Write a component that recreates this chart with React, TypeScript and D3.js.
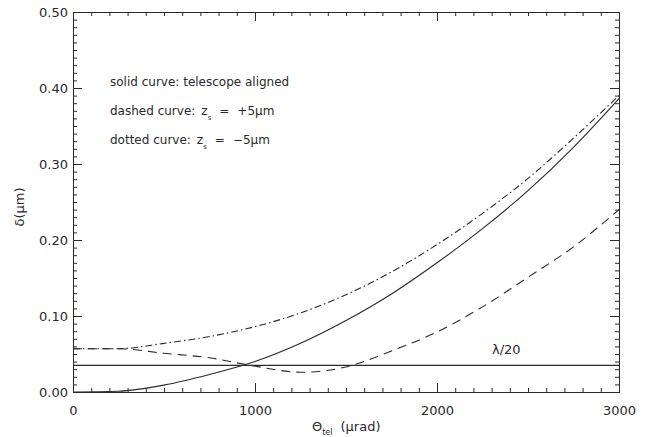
import React, { useEffect, useRef } from 'react';
import * as d3 from 'd3';

// telescope tilt (micro-radians)
const theta = [0, 250, 500, 750, 1000, 1250, 1500, 1750, 2000, 2250, 2500, 2750, 3000];
// wavefront error delta (um)
const solidCurve = [0.0, 0.001, 0.009, 0.023, 0.04, 0.064, 0.094, 0.129, 0.17, 0.215, 0.265, 0.322, 0.386];
const dashedCurve = [0.057, 0.057, 0.051, 0.045, 0.034, 0.026, 0.033, 0.054, 0.079, 0.112, 0.151, 0.191, 0.24];
const dashDotCurve = [0.057, 0.057, 0.064, 0.073, 0.086, 0.104, 0.128, 0.158, 0.194, 0.235, 0.281, 0.334, 0.39];
const limitX = [0, 3000];
const limitY = [0.035, 0.035];

const xMajor = [0, 1000, 2000, 3000];
const yMajor = [0, 0.1, 0.2, 0.3, 0.4, 0.5];

const Chart = () => {
  const svgRef = useRef<SVGSVGElement>(null);

  useEffect(() => {
    const W = 651, H = 437;
    const margin = { top: 12, right: 32, bottom: 45, left: 73 };
    const width = W - margin.left - margin.right;
    const height = H - margin.top - margin.bottom;
    const ink = '#2a2a2a';
    const font = '"DejaVu Sans", sans-serif';

    const root = d3.select(svgRef.current);
    root.selectAll('*').remove();
    root.attr('width', W).attr('height', H);

    const svg = root.append('g')
      .attr('transform', `translate(${margin.left},${margin.top})`);

    const x = d3.scaleLinear().domain([0, 3000]).range([0, width]);
    const y = d3.scaleLinear().domain([0, 0.5]).range([height, 0]);

    const xMinor = d3.range(0, 3001, 100);
    const yMinor = d3.range(0, 0.5001, 0.01);

    const styleAxis = (g: any) => {
      g.select('.domain').attr('stroke', ink).attr('stroke-width', 1);
      g.selectAll('line').attr('stroke', ink).attr('stroke-width', 1);
      g.selectAll('text').attr('fill', ink).attr('font-family', font).attr('font-size', 13);
    };

    // bottom
    svg.append('g').attr('transform', `translate(0,${height})`)
      .call(d3.axisBottom(x).tickValues(xMinor).tickSize(-4).tickSizeOuter(0).tickFormat(() => ''))
      .call(styleAxis);
    svg.append('g').attr('transform', `translate(0,${height})`)
      .call(d3.axisBottom(x).tickValues(xMajor).tickSize(-9).tickSizeOuter(0).tickPadding(14).tickFormat(d3.format('d')))
      .call(styleAxis);
    // top
    svg.append('g')
      .call(d3.axisTop(x).tickValues(xMinor).tickSize(-4).tickSizeOuter(0).tickFormat(() => ''))
      .call(styleAxis);
    svg.append('g')
      .call(d3.axisTop(x).tickValues(xMajor).tickSize(-9).tickSizeOuter(0).tickFormat(() => ''))
      .call(styleAxis);
    // left
    svg.append('g')
      .call(d3.axisLeft(y).tickValues(yMinor).tickSize(-4).tickSizeOuter(0).tickFormat(() => ''))
      .call(styleAxis);
    svg.append('g')
      .call(d3.axisLeft(y).tickValues(yMajor).tickSize(-9).tickSizeOuter(0).tickPadding(5).tickFormat(d3.format('.2f')))
      .call(styleAxis);
    // right
    svg.append('g').attr('transform', `translate(${width},0)`)
      .call(d3.axisRight(y).tickValues(yMinor).tickSize(-4).tickSizeOuter(0).tickFormat(() => ''))
      .call(styleAxis);
    svg.append('g').attr('transform', `translate(${width},0)`)
      .call(d3.axisRight(y).tickValues(yMajor).tickSize(-9).tickSizeOuter(0).tickFormat(() => ''))
      .call(styleAxis);

    const line = d3.line<number>()
      .x((_, i) => x(theta[i]))
      .y(d => y(d))
      .curve(d3.curveMonotoneX);

    svg.append('path').datum(solidCurve)
      .attr('fill', 'none').attr('stroke', ink).attr('stroke-width', 1.1)
      .attr('d', line);
    svg.append('path').datum(dashedCurve)
      .attr('fill', 'none').attr('stroke', ink).attr('stroke-width', 1.1)
      .attr('stroke-dasharray', '9,6')
      .attr('d', line);
    svg.append('path').datum(dashDotCurve)
      .attr('fill', 'none').attr('stroke', ink).attr('stroke-width', 1.1)
      .attr('stroke-dasharray', '7,3,1.5,3')
      .attr('d', line);

    const limitLine = d3.line<number>()
      .x((_, i) => x(limitX[i]))
      .y(d => y(d));
    svg.append('path').datum(limitY)
      .attr('fill', 'none').attr('stroke', ink).attr('stroke-width', 1.1)
      .attr('d', limitLine);

    const label = (px: number, py: number, size = 12) => root.append('text')
      .attr('x', px).attr('y', py)
      .attr('fill', ink).attr('font-family', font).attr('font-size', size);

    label(492, 354, 13).text('λ/20');

    label(110, 86).text('solid curve: telescope aligned');

    const eq = (py: number, prefix: string, sign: string) => {
      const t = label(110, py);
      t.append('tspan').text(prefix);
      t.append('tspan').attr('dx', 6).text('z');
      t.append('tspan').attr('dy', 5).attr('font-size', 7).text('s');
      t.append('tspan').attr('dx', 8).attr('dy', -5).text('=');
      t.append('tspan').attr('dx', 8).text(`${sign}5μm`);
    };
    eq(115, 'dashed curve:', '+');
    eq(144, 'dotted curve:', '−');

    // x title
    const xt = label(312, 431, 13);
    xt.append('tspan').text('Θ');
    xt.append('tspan').attr('dy', 4).attr('font-size', 8).text('tel');
    xt.append('tspan').attr('dy', -4).attr('dx', 8).text('(μrad)');

    // y title
    root.append('text')
      .attr('transform', 'translate(24,207) rotate(-90)')
      .attr('text-anchor', 'middle')
      .attr('fill', ink).attr('font-family', font).attr('font-size', 13)
      .text('δ(μm)');
  }, []);

  return <svg ref={svgRef} style={{ position: 'absolute', left: 0, top: 0, background: '#fff' }}></svg>;
};

export default function App() {
  return <Chart />;
}
